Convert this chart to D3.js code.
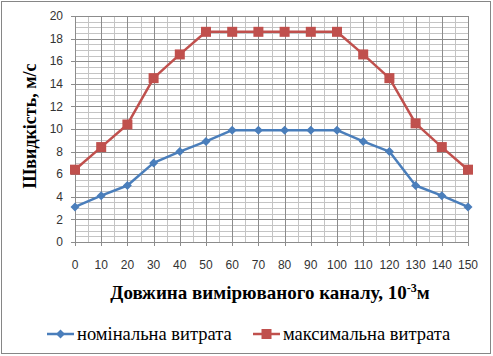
<!DOCTYPE html>
<html>
<head>
<meta charset="utf-8">
<script src="https://cdn.jsdelivr.net/npm/d3@7"></script>
<style>
  body { margin: 0; background: #fff; }
  svg { display: block; }
</style>
</head>
<body>
<script>
// data
var distances = [0, 10, 20, 30, 40, 50, 60, 70, 80, 90, 100, 110, 120, 130, 140, 150];
var nominal = [3.1, 4.1, 5.0, 7.0, 8.0, 8.9, 9.9, 9.9, 9.9, 9.9, 9.9, 8.9, 8.0, 5.0, 4.1, 3.1];
var maximal = [6.4, 8.4, 10.4, 14.5, 16.6, 18.6, 18.6, 18.6, 18.6, 18.6, 18.6, 16.6, 14.5, 10.5, 8.4, 6.4];
var seriesNames = ["номінальна витрата", "максимальна витрата"];
var yTicks = [0, 2, 4, 6, 8, 10, 12, 14, 16, 18, 20];

var width = 493,
    height = 356,
    plotLeft = 75, plotRight = 468, plotTop = 16, plotBottom = 242;

var serif = "Liberation Serif",
    sans = "Liberation Sans";

var svg = d3.select("body").append("svg")
    .attr("width", width)
    .attr("height", height);

// outer chart border
svg.append("rect")
    .attr("x", 1.5).attr("y", 1.5)
    .attr("width", 489).attr("height", 352)
    .attr("fill", "#fff")
    .attr("stroke", "#868686");

var x = d3.scaleLinear().domain([0, 150]).range([plotLeft, plotRight]);
var y = d3.scaleLinear().domain([0, 20]).range([plotBottom, plotTop]);

// minor grid
var grid = svg.append("g");
grid.selectAll("line.vminor")
    .data(d3.range(5, 150, 10))
    .enter().append("line")
    .attr("x1", function(d) { return Math.round(x(d)) + 0.5; })
    .attr("x2", function(d) { return Math.round(x(d)) + 0.5; })
    .attr("y1", plotTop).attr("y2", plotBottom)
    .attr("stroke", "#c4c4c4");
grid.selectAll("line.hminor")
    .data(d3.range(0.5, 20, 0.5).filter(function(d) { return d % 2 != 0; }))
    .enter().append("line")
    .attr("y1", function(d) { return Math.round(y(d)) + 0.5; })
    .attr("y2", function(d) { return Math.round(y(d)) + 0.5; })
    .attr("x1", plotLeft).attr("x2", plotRight)
    .attr("stroke", "#c4c4c4");

// major grid
grid.selectAll("line.vmajor")
    .data(distances)
    .enter().append("line")
    .attr("x1", function(d) { return Math.round(x(d)) + 0.5; })
    .attr("x2", function(d) { return Math.round(x(d)) + 0.5; })
    .attr("y1", plotTop).attr("y2", plotBottom + 4)
    .attr("stroke", "#8c8c8c");
grid.selectAll("line.hmajor")
    .data(yTicks)
    .enter().append("line")
    .attr("y1", function(d) { return Math.round(y(d)) + 0.5; })
    .attr("y2", function(d) { return Math.round(y(d)) + 0.5; })
    .attr("x1", plotLeft - 4).attr("x2", plotRight)
    .attr("stroke", "#8c8c8c");

// tick labels
svg.append("g")
    .selectAll("text")
    .data(yTicks)
    .enter().append("text")
    .attr("x", plotLeft - 12)
    .attr("y", function(d) { return y(d); })
    .attr("dy", "0.35em")
    .attr("text-anchor", "end")
    .attr("font-family", sans)
    .attr("font-size", 12)
    .attr("fill", "#333")
    .text(function(d) { return d; });

svg.append("g")
    .selectAll("text")
    .data(distances)
    .enter().append("text")
    .attr("x", function(d) { return x(d); })
    .attr("y", 269)
    .attr("text-anchor", "middle")
    .attr("font-family", sans)
    .attr("font-size", 12)
    .attr("fill", "#333")
    .text(function(d) { return d; });

// axis titles
svg.append("text")
    .attr("transform", "translate(36,126) rotate(-90)")
    .attr("text-anchor", "middle")
    .attr("font-family", serif)
    .attr("font-weight", "bold")
    .attr("font-size", 18)
    .text("Швидкість, м/с");

var xt = svg.append("text")
    .attr("x", 270)
    .attr("y", 299)
    .attr("text-anchor", "middle")
    .attr("font-family", serif)
    .attr("font-weight", "bold")
    .attr("font-size", 19);
xt.append("tspan").text("Довжина вимірюваного каналу, 10");
xt.append("tspan").attr("dy", -7).attr("font-size", 12).text("-3");
xt.append("tspan").attr("dy", 7).text("м");

var colors = ["#4a7ebb", "#c0504d"];
var line = d3.line()
    .x(function(d, i) { return x(distances[i]); })
    .y(function(d) { return y(d); });

function diamond(sel, s) {
    sel.append("path")
        .attr("d", "M0," + (-s) + "L" + s + ",0L0," + s + "L" + (-s) + ",0Z");
}

[nominal, maximal].forEach(function(vals, k) {
    svg.append("path")
        .datum(vals)
        .attr("fill", "none")
        .attr("stroke", colors[k])
        .attr("stroke-width", 2.5)
        .attr("stroke-linejoin", "round")
        .attr("d", line);

    var m = svg.append("g").selectAll("g")
        .data(vals)
        .enter().append("g")
        .attr("transform", function(d, i) { return "translate(" + x(distances[i]) + "," + y(d) + ")"; })
        .attr("fill", colors[k]);
    if (k == 0) diamond(m, 4.5);
    else m.append("rect").attr("x", -5).attr("y", -5).attr("width", 10).attr("height", 10);
});

// legend
var legendX = [47, 253];
seriesNames.forEach(function(name, k) {
    var g = svg.append("g").attr("transform", "translate(" + legendX[k] + ",334)");
    g.append("line")
        .attr("x1", 0).attr("x2", 27)
        .attr("stroke", colors[k]).attr("stroke-width", 2.5);
    var mk = g.append("g").attr("transform", "translate(13.5,0)").attr("fill", colors[k]);
    if (k == 0) diamond(mk, 4.5);
    else mk.append("rect").attr("x", -5).attr("y", -5).attr("width", 10).attr("height", 10);
    g.append("text")
        .attr("x", 30)
        .attr("dy", "0.35em")
        .attr("font-family", serif)
        .attr("font-size", 18.5)
        .text(name);
});
</script>
</body>
</html>
